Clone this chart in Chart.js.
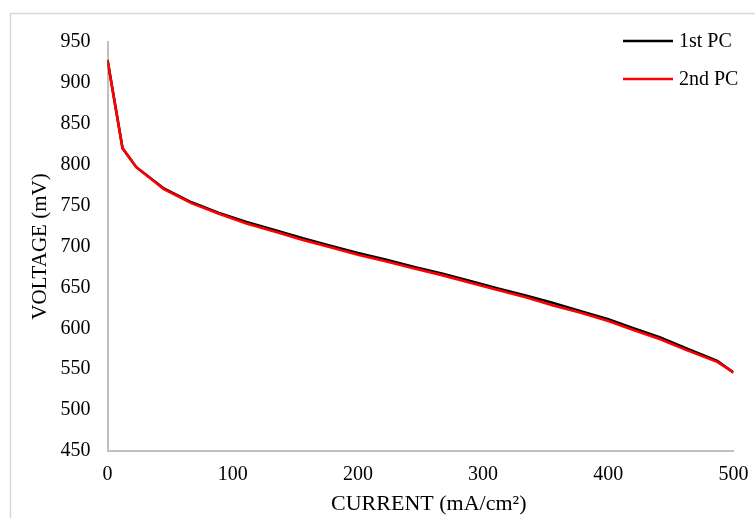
<!DOCTYPE html>
<html>
<head>
<meta charset="utf-8">
<title>Polarization curve</title>
<script src="https://cdn.jsdelivr.net/npm/chart.js@4/dist/chart.umd.min.js"></script>
<style>
  html, body { margin: 0; padding: 0; background: #fff; }
  #wrap { position: relative; width: 755px; height: 518px; overflow: hidden; }
</style>
</head>
<body>
<div id="wrap"><canvas id="grafico" width="755" height="518"></canvas></div>
<script>
// Corriente (mA/cm2) y voltaje (mV) de cada curva
const corriente1 = [0, 12, 23, 45, 67, 89, 111, 134, 156, 178, 200, 222, 245, 267, 289, 311, 334, 356, 378, 400, 420, 441, 463, 487, 500];
const voltaje1   = [928, 820, 797, 771, 754, 741, 730, 720, 710, 701, 692, 684, 675, 667, 658, 649, 640, 631, 621, 611, 600, 589, 575, 560, 546];

const corriente2 = [0, 12, 23, 45, 67, 89, 111, 134, 156, 178, 200, 222, 245, 267, 289, 311, 334, 356, 378, 400, 420, 441, 463, 487, 500];
const voltaje2   = [928, 820, 797, 770, 753, 740, 728, 718, 708, 699, 690, 682, 673, 665, 656, 647, 638, 628, 619, 609, 598, 587, 573, 559, 546];

const etiquetas = ['1st PC', '2nd PC'];
const colores = ['#000000', '#ff0000'];

const ticksX = [0, 100, 200, 300, 400, 500];
const ticksY = [450, 500, 550, 600, 650, 700, 750, 800, 850, 900, 950];

const fuente = "'Liberation Serif', 'Times New Roman', serif";

function puntos(xs, ys) {
    return xs.map((x, i) => ({ x: x, y: ys[i] }));
}

// Marco gris claro alrededor del gráfico (como el borde del área de Excel)
const marco = {
    id: 'marco',
    beforeDraw(chart) {
        const ctx = chart.ctx;
        ctx.save();
        ctx.strokeStyle = '#d9d9d9';
        ctx.lineWidth = 1.5;
        ctx.strokeRect(10.5, 13.5, 900, 700);
        ctx.restore();
    }
};

// Leyenda a mano, arriba a la derecha, encima del área de trazado
const leyenda = {
    id: 'leyenda',
    afterDraw(chart) {
        const ctx = chart.ctx;
        ctx.save();
        ctx.font = '20px ' + fuente;
        ctx.textBaseline = 'middle';
        chart.data.datasets.forEach((ds, i) => {
            const y = 41 + i * 38;
            ctx.strokeStyle = ds.borderColor;
            ctx.lineWidth = 2.5;
            ctx.beginPath();
            ctx.moveTo(623, y);
            ctx.lineTo(673, y);
            ctx.stroke();
            ctx.fillStyle = '#000';
            ctx.fillText(ds.label, 679, y + 1);
        });
        ctx.restore();
    }
};

new Chart(document.getElementById('grafico').getContext('2d'), {
    type: 'line',
    data: {
        datasets: [
            { label: etiquetas[0], data: puntos(corriente1, voltaje1), borderColor: colores[0], order: 1 },
            { label: etiquetas[1], data: puntos(corriente2, voltaje2), borderColor: colores[1], order: 0 }
        ]
    },
    options: {
        responsive: false,
        animation: false,
        devicePixelRatio: 1,
        layout: { padding: { left: 0, top: 42, right: 21.5, bottom: 0 } },
        elements: {
            line: { borderWidth: 2.6, tension: 0, fill: false },
            point: { radius: 0 }
        },
        plugins: {
            legend: { display: false },
            tooltip: { enabled: false }
        },
        scales: {
            x: {
                type: 'linear',
                min: 0,
                max: 500,
                afterBuildTicks: s => { s.ticks = ticksX.map(v => ({ value: v })); },
                // el "500" no debe empujar el área de trazado hacia la izquierda
                afterFit: s => { s.height = 67; s.paddingRight = 0; s.paddingLeft = 0; },
                grid: { display: false, drawTicks: false },
                border: { display: true, color: '#c0c0c0', width: 2 },
                ticks: { color: '#000', padding: 12, font: { family: fuente, size: 20 } },
                title: {
                    display: true,
                    text: '   CURRENT (mA/cm²)',
                    color: '#000',
                    padding: { top: 0, bottom: 1 },
                    font: { family: fuente, size: 22 }
                }
            },
            y: {
                min: 450,
                max: 950,
                afterBuildTicks: s => { s.ticks = ticksY.map(v => ({ value: v })); },
                afterFit: s => { s.width = 107.5; },
                grid: { display: false, drawTicks: false },
                border: { display: true, color: '#c0c0c0', width: 2 },
                ticks: { color: '#000', padding: 17, font: { family: fuente, size: 20 } },
                title: {
                    display: true,
                    text: 'VOLTAGE (mV)',
                    color: '#000',
                    padding: { top: 28, bottom: 0 },
                    font: { family: fuente, size: 21 }
                }
            }
        }
    },
    plugins: [marco, leyenda]
});
</script>
</body>
</html>
